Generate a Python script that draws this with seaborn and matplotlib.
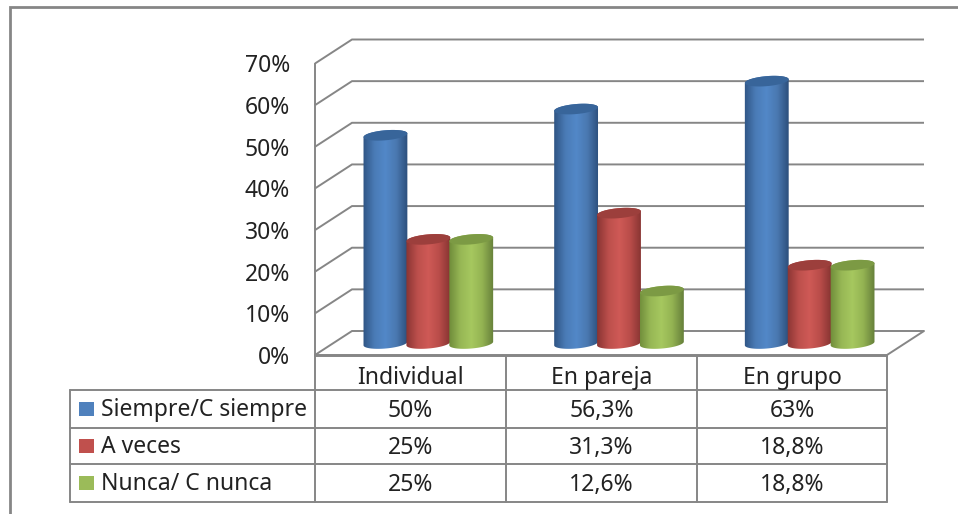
import numpy as np
import pandas as pd
import seaborn as sns
import matplotlib
matplotlib.use("Agg")
import matplotlib.pyplot as plt
from matplotlib.patches import Polygon, Rectangle
from matplotlib.path import Path
from matplotlib.colors import LinearSegmentedColormap
from matplotlib.transforms import IdentityTransform

categories = ["Individual", "En pareja", "En grupo"]
series_names = ["Siempre/C siempre", "A veces", "Nunca/ C nunca"]
siempre = [50, 56.3, 63]
a_veces = [25, 31.3, 18.8]
nunca = [25, 12.6, 18.8]
siempre_labels = ["50%", "56,3%", "63%"]
a_veces_labels = ["25%", "31,3%", "18,8%"]
nunca_labels = ["25%", "12,6%", "18,8%"]
y_ticks = [0, 10, 20, 30, 40, 50, 60, 70]

base_colors = ["#4f81bd", "#c0504d", "#9bbb59"]
gradients = [["#2f5585", "#4a7bb6", "#5288c8", "#4a78b0", "#2c4f7c"],
             ["#8a3533", "#bc4f4c", "#cf5a56", "#b84c49", "#853331"],
             ["#6f8c3a", "#97b755", "#a6c85f", "#93b252", "#66803a"]]
top_colors = ["#38659a", "#9c3f3c", "#7c9a44"]
line_color = "#868686"
text_color = "#222222"

W, H = 958, 514
LINE_W = 1.4
FS = 16.5


def rect(l, t, r, b):
    return [l / W, 1 - b / H, (r - l) / W, (b - t) / H]


sns.set_theme(style="white")
plt.rcParams["font.family"] = ["Noto Sans", "DejaVu Sans"]
fig = plt.figure(figsize=(W / 100, H / 100), dpi=100, facecolor="white")

# Front plane: carries the value axis and the pseudo-3D walls
FRONT_L, FRONT_R, Y0, Y70 = 315, 887, 355, 63.5
DX, DY = 37, 24
ax = fig.add_axes(rect(FRONT_L, Y70, FRONT_R, Y0), facecolor="none")
ax.set_xlim(0, FRONT_R - FRONT_L)
ax.set_ylim(0, 70)
ax.set_yticks(y_ticks)
ax.set_yticklabels([f"{v}%" for v in y_ticks], fontsize=FS, color=text_color)
ax.set_xticks([])
ax.tick_params(axis="y", length=0, pad=18)
for s in ["top", "right", "bottom"]:
    ax.spines[s].set_visible(False)
ax.spines["left"].set_color(line_color)
ax.spines["left"].set_linewidth(LINE_W)
px = 70 / (Y0 - Y70)
span = FRONT_R - FRONT_L
for v in y_ticks:
    ax.plot([0, DX, DX + span], [v, v + DY * px, v + DY * px], color=line_color,
            lw=LINE_W, clip_on=False, solid_capstyle="butt", solid_joinstyle="miter")
ax.plot([0, span, span + DX], [0, 0, DY * px], color=line_color, lw=LINE_W, clip_on=False)

# Bar plane: bars stand in the middle of the floor
BASE = 343.5
PER = (Y0 - Y70) / 70
ax_bar = fig.add_axes(rect(333, BASE - 75 * PER, 905, BASE + 4 * PER), facecolor="none")
df = pd.DataFrame({
    "categoria": categories * 3,
    "serie": np.repeat(series_names, 3),
    "valor": siempre + a_veces + nunca,
})
sns.barplot(data=df, x="categoria", y="valor", hue="serie", hue_order=series_names,
            palette=base_colors, width=0.675, gap=0, legend=False, ax=ax_bar, saturation=1)
ax_bar.set_axis_off()
xlim, ylim = (-0.5, 2.5), (-4, 75)
ax_bar.set_xlim(*xlim)
ax_bar.set_ylim(*ylim)


def arc(cx, cy, a, b, t0, t1, tilt=np.deg2rad(5), n=40):
    t = np.linspace(t0, t1, n)
    x, y = a * np.cos(t), b * np.sin(t)
    return np.column_stack([cx + x * np.cos(tilt) - y * np.sin(tilt),
                            cy + x * np.sin(tilt) + y * np.cos(tilt)])


BAR_W = 44
for i, container in enumerate(ax_bar.containers):
    cmap = LinearSegmentedColormap.from_list(f"c{i}", gradients[i])
    for bar in container:
        xc = bar.get_x() + bar.get_width() / 2
        top = bar.get_height()
        p0 = ax_bar.transData.transform((xc, 0))
        p1 = ax_bar.transData.transform((xc, top))
        a, b = BAR_W / 2, 5.0
        lower = arc(p0[0], p0[1], a, b, np.pi, 2 * np.pi)
        upper = arc(p1[0], p1[1], a, b, 0, np.pi)
        body = np.vstack([lower, upper, lower[:1]])
        half = BAR_W / 2 / (ax_bar.transData.transform((1, 0))[0] - ax_bar.transData.transform((0, 0))[0])
        bar.set_x(xc - half)
        bar.set_width(2 * half)
        bar.set_zorder(2 + i)
        bar.set_alpha(0)
        im = ax_bar.imshow(np.linspace(0, 1, 64)[None, :], cmap=cmap, aspect="auto",
                           extent=(xc - half * 1.02, xc + half * 1.02, -4, top + 3),
                           zorder=2 + i, interpolation="bilinear")
        im.set_clip_path(Path(body), IdentityTransform())
        cap = arc(p1[0], p1[1], a, b, 0, 2 * np.pi)
        ax_bar.add_patch(Polygon(cap, closed=True, facecolor=top_colors[i], edgecolor="none",
                                 transform=IdentityTransform(), zorder=2 + i + 0.5, clip_on=False))
ax_bar.set_xlim(*xlim)
ax_bar.set_ylim(*ylim)

# Overlay in pixel units: outer frame and data table
ov = fig.add_axes([0, 0, 1, 1], facecolor="none")
ov.set_xlim(0, W)
ov.set_ylim(H, 0)
ov.set_axis_off()
ov.plot([10, 10, W], [H, 7, 7], color=line_color, lw=2.0, solid_joinstyle="miter")

cols = [70, 315, 506, 697, 887]
rows = [356, 390, 428, 464, 502]
for y in rows[1:]:
    ov.plot([cols[0], cols[-1]], [y, y], color=line_color, lw=LINE_W)
ov.plot([cols[1], cols[-1]], [rows[0], rows[0]], color=line_color, lw=LINE_W)
ov.plot([cols[0], cols[0]], [rows[1], rows[-1]], color=line_color, lw=LINE_W)
for x in cols[1:]:
    ov.plot([x, x], [rows[0], rows[-1]], color=line_color, lw=LINE_W)

for j, name in enumerate(categories):
    ov.text((cols[j + 1] + cols[j + 2]) / 2, 378, name, ha="center", va="center",
            fontsize=FS, color=text_color)
label_rows = [siempre_labels, a_veces_labels, nunca_labels]
row_y = [409, 446, 483]
for i, name in enumerate(series_names):
    ov.add_patch(Rectangle((79, row_y[i] - 7), 15.5, 14, facecolor=base_colors[i], edgecolor="none"))
    ov.text(101, row_y[i] + 1, name, ha="left", va="center", fontsize=FS, color=text_color)
    for j, lab in enumerate(label_rows[i]):
        ov.text((cols[j + 1] + cols[j + 2]) / 2, row_y[i] + 2, lab, ha="center", va="center",
                fontsize=FS, color=text_color)

fig.savefig("out.png", dpi=100, facecolor="white")
